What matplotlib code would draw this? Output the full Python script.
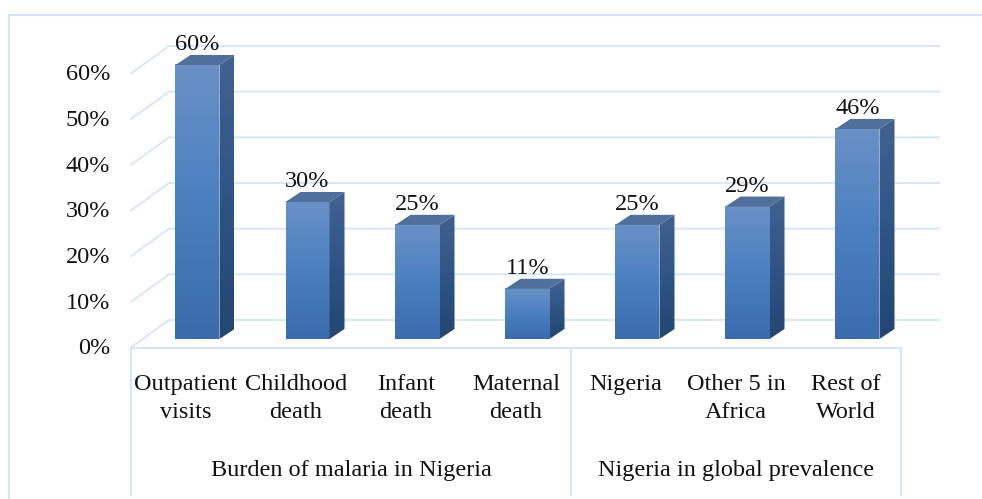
# Malaria burden chart, fake 3D columns

import numpy as np
import matplotlib.pyplot as plt
from matplotlib.colors import LinearSegmentedColormap
from matplotlib.patches import Polygon

plt.rcParams['font.family'] = ['Liberation Serif', 'DejaVu Serif']

categories = ['Outpatient\nvisits', 'Childhood\ndeath', 'Infant\ndeath', 'Maternal\ndeath',
              'Nigeria', 'Other 5 in\nAfrica', 'Rest of\nWorld']
values = [60, 30, 25, 11, 25, 29, 46]
groups = ['Burden of malaria in Nigeria', 'Nigeria in global prevalence']
group_spans = [(0, 3), (4, 6)]
y_ticks = [0, 10, 20, 30, 40, 50, 60]

W, H = 982, 499
x0_px, x_step = 197.5, 110.0
y0_px, y_step = 339.0, 4.567

line_col = '#d6e5f7'
txt_col = '#111111'
fs = 17.5

# depth of the fake 3D, in data units
bar_w = 0.4
bar_dx, bar_dy = 15 / x_step, 10 / y_step
floor_dx = 38 / x_step
front_y, back_y = -8.5 / y_step, 19 / y_step

fig = plt.figure(figsize=(W / 100, H / 100), dpi=100)
ax = fig.add_axes([0, 0, 1, 1])
ax.axis('off')

# frame of the whole picture
ax.axhline((y0_px - 15) / y_step, xmin=9 / W, color=line_col, lw=1.6)
ax.axvline((9 - x0_px) / x_step, ymax=1 - 15 / H, color=line_col, lw=1.6)

# labels sit on the front plane, so they are left of the bars
shift = 11.5 / x_step
x_left = -0.5 - shift
x_right = len(values) - 0.5 - shift

# gridlines, back wall plus the diagonal on the side wall
for v in y_ticks:
    ax.plot([x_left, x_left + floor_dx, x_right + floor_dx],
            [v + front_y, v + back_y, v + back_y], color=line_col, lw=1.3, zorder=1)
    ax.text(x_left - 0.19, v + front_y - 0.3, f'{v}%', ha='right', va='center',
            fontsize=fs, color=txt_col)

# floor front edge and the category box
label_bottom = -147 / y_step + front_y
ax.plot([x_left, x_right], [front_y, front_y], color=line_col, lw=1.6, zorder=1)
for xv in [x_left, x_left + 4, x_right]:
    ax.plot([xv, xv], [front_y, label_bottom], color=line_col, lw=1.6)

front_cmap = LinearSegmentedColormap.from_list('front', ['#6a90c6', '#4a80c0', '#3a6bad'])
side_cmap = LinearSegmentedColormap.from_list('side', ['#426291', '#2f5485', '#234672'])
grad = np.linspace(0, 1, 128).reshape(-1, 1)

for i, v in enumerate(values):
    l, r = i - bar_w / 2, i + bar_w / 2
    ax.imshow(grad, cmap=front_cmap, aspect='auto', extent=(l, r, 0, v), zorder=3)
    side = Polygon([(r, 0), (r + bar_dx, bar_dy), (r + bar_dx, v + bar_dy), (r, v)], closed=True,
                   fc='none', ec='none', zorder=3)
    ax.add_patch(side)
    im = ax.imshow(grad, cmap=side_cmap, aspect='auto', extent=(r, r + bar_dx, 0, v + bar_dy), zorder=3)
    im.set_clip_path(side)
    ax.add_patch(Polygon([(l, v), (l + bar_dx, v + bar_dy), (r + bar_dx, v + bar_dy), (r, v)], closed=True,
                         fc='#50709c', ec='none', zorder=4))
    ax.text(i, v + bar_dy, f'{v}%', ha='center', va='bottom', fontsize=fs, color=txt_col, zorder=5)
    ax.text(i - shift, front_y - 5.85, categories[i], ha='center', va='top', fontsize=fs,
            color=txt_col, linespacing=1.42)

for name, (a, b) in zip(groups, group_spans):
    ax.text((a + b) / 2 - shift, front_y - 26.9, name, ha='center', va='center', fontsize=fs, color=txt_col)

ax.set_xlim(-x0_px / x_step, (W - x0_px) / x_step)
ax.set_ylim((y0_px - H) / y_step, y0_px / y_step)

fig.savefig('out.png', dpi=100)
